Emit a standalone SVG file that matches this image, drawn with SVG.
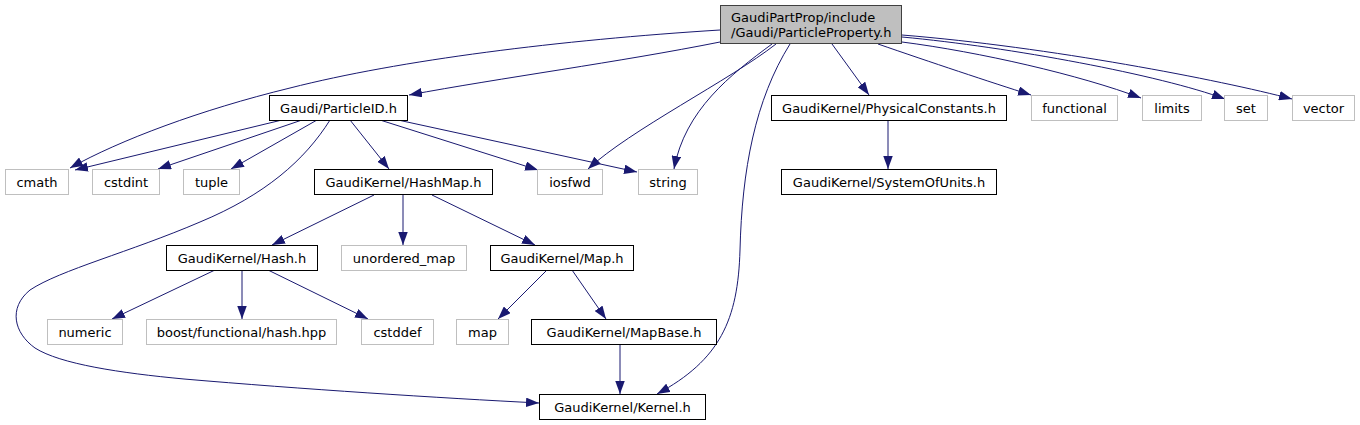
<svg xmlns="http://www.w3.org/2000/svg" width="1360" height="425" viewBox="0 0 1360 425">
<style>
text{font-family:"DejaVu Sans","Liberation Sans",sans-serif;font-size:13px;fill:#000;text-anchor:middle}
.doc rect{fill:#fff;stroke:#000;stroke-width:1}
.ext rect{fill:#fff;stroke:#bfbfbf;stroke-width:1}
.root rect{fill:#bfbfbf;stroke:#404040;stroke-width:1}
.root text{text-anchor:start}
#edges path{fill:none;stroke:#191970;stroke-width:1;marker-end:url(#arr)}
</style>
<defs>
<marker id="arr" viewBox="0 0 13 9.5" refX="13" refY="4.75" markerWidth="13" markerHeight="9.5" markerUnits="userSpaceOnUse" orient="auto">
<path d="M0,0 L13,4.75 L0,9.5 z" fill="#191970"/>
</marker>
</defs>
<rect width="1360" height="425" fill="#fff"/>
<g id="edges">
<path d="M720,42 C620,62 500,78 409,95"/>
<path d="M720,30 C560,40 400,60 290,88 C200,110 120,140 70,168"/>
<path d="M282,120 L75,170"/>
<path d="M302,120 L158,169"/>
<path d="M317,120 L231,169"/>
<path d="M330,120 C305,160 265,195 200,222 C130,252 60,270 30,290 C8,308 14,333 35,348 C60,364 120,373 184,379 C300,389 440,398 539,403"/>
<path d="M350,120 L389,169"/>
<path d="M380,120 L538,170"/>
<path d="M398,120 L637,172"/>
<path d="M776,44 C730,80 630,130 588,169"/>
<path d="M772,44 C730,75 685,110 674,169"/>
<path d="M790,44 C755,100 742,170 740,250 C738,320 720,360 657,394"/>
<path d="M832,44 L869,95"/>
<path d="M878,44 C930,62 990,82 1031,95"/>
<path d="M902,42 C980,52 1080,75 1141,98"/>
<path d="M902,37 C1010,47 1160,75 1225,99"/>
<path d="M902,35 C1050,47 1220,80 1292,99"/>
<path d="M888,120 L888,169"/>
<path d="M374,195 L272,245"/>
<path d="M403,195 L403,245"/>
<path d="M432,195 L535,245"/>
<path d="M215,270 L112,319"/>
<path d="M242,270 L242,319"/>
<path d="M268,270 L368,319"/>
<path d="M547,270 L498,319"/>
<path d="M572,270 L606,319"/>
<path d="M620,344 L620,394"/>
</g>
<g id="root" class="root"><rect x="720.5" y="5.5" width="181" height="38"/><text x="731" y="22">GaudiPartProp/include</text><text x="731" y="37">/Gaudi/ParticleProperty.h</text></g>
<g id="particleid" class="doc"><rect x="269.5" y="95.5" width="138" height="25"/><text x="338.5" y="112.5">Gaudi/ParticleID.h</text></g>
<g id="physconst" class="doc"><rect x="771.5" y="95.5" width="235" height="25"/><text x="889" y="112.5">GaudiKernel/PhysicalConstants.h</text></g>
<g id="functional" class="ext"><rect x="1031.5" y="95.5" width="86" height="25"/><text x="1074.5" y="112.5">functional</text></g>
<g id="limits" class="ext"><rect x="1142.5" y="95.5" width="59" height="25"/><text x="1172" y="112.5">limits</text></g>
<g id="set" class="ext"><rect x="1224.5" y="95.5" width="43" height="25"/><text x="1246" y="112.5">set</text></g>
<g id="vector" class="ext"><rect x="1292.5" y="95.5" width="62" height="25"/><text x="1323.5" y="112.5">vector</text></g>
<g id="cmath" class="ext"><rect x="5.5" y="169.5" width="63" height="25"/><text x="37" y="186.5">cmath</text></g>
<g id="cstdint" class="ext"><rect x="92.5" y="169.5" width="67" height="25"/><text x="126" y="186.5">cstdint</text></g>
<g id="tuple" class="ext"><rect x="183.5" y="169.5" width="56" height="25"/><text x="211.5" y="186.5">tuple</text></g>
<g id="hashmap" class="doc"><rect x="314.5" y="169.5" width="178" height="25"/><text x="403.5" y="186.5">GaudiKernel/HashMap.h</text></g>
<g id="iosfwd" class="ext"><rect x="537.5" y="169.5" width="65" height="25"/><text x="570" y="186.5">iosfwd</text></g>
<g id="string" class="ext"><rect x="638.5" y="169.5" width="59" height="25"/><text x="668" y="186.5">string</text></g>
<g id="systemofunits" class="doc"><rect x="781.5" y="169.5" width="215" height="25"/><text x="889" y="186.5">GaudiKernel/SystemOfUnits.h</text></g>
<g id="hash" class="doc"><rect x="166.5" y="245.5" width="151" height="25"/><text x="242" y="262.5">GaudiKernel/Hash.h</text></g>
<g id="unordered_map" class="ext"><rect x="341.5" y="245.5" width="125" height="25"/><text x="404" y="262.5">unordered_map</text></g>
<g id="maph" class="doc"><rect x="490.5" y="245.5" width="143" height="25"/><text x="562" y="262.5">GaudiKernel/Map.h</text></g>
<g id="numeric" class="ext"><rect x="47.5" y="319.5" width="75" height="25"/><text x="85" y="336.5">numeric</text></g>
<g id="boost" class="ext"><rect x="146.5" y="319.5" width="190" height="25"/><text x="241.5" y="336.5">boost/functional/hash.hpp</text></g>
<g id="cstddef" class="ext"><rect x="361.5" y="319.5" width="72" height="25"/><text x="397.5" y="336.5">cstddef</text></g>
<g id="map" class="ext"><rect x="456.5" y="319.5" width="52" height="25"/><text x="482.5" y="336.5">map</text></g>
<g id="mapbase" class="doc"><rect x="531.5" y="319.5" width="185" height="25"/><text x="624" y="336.5">GaudiKernel/MapBase.h</text></g>
<g id="kernel" class="doc"><rect x="539.5" y="394.5" width="166" height="25"/><text x="622.5" y="411.5">GaudiKernel/Kernel.h</text></g>
</svg>
